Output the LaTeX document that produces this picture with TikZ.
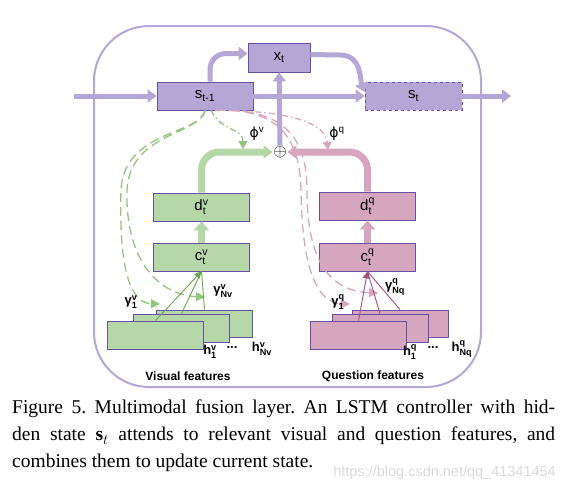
\documentclass[tikz,border=0pt]{standalone}
\usepackage{amsmath}
\usepackage{fontspec}
\setmainfont{Liberation Serif}
\setsansfont{Liberation Sans}
\newfontfamily\greekfont{DejaVu Sans}
\usepackage{tikz}
\usetikzlibrary{arrows.meta,calc,positioning}
\definecolor{fsPurple}{HTML}{B4A7D6}
\definecolor{fsPurpleDark}{HTML}{674EA7}
\definecolor{fsGreen}{HTML}{B6D7A8}
\definecolor{fsGreenDash}{HTML}{93C47D}
\definecolor{fsGreenLine}{HTML}{6AA84F}
\definecolor{fsPink}{HTML}{D5A6BD}
\definecolor{fsPinkLine}{HTML}{A64D79}
\frenchspacing

\begin{document}
\begin{tikzpicture}[x=1pt,y=-1pt,>=Latex,
  box/.style={draw=fsPurpleDark,line width=0.8pt,minimum width=96pt,minimum height=28pt,inner sep=0pt,font=\sffamily\fontsize{15}{17}\selectfont},
  statebox/.style={box,fill=fsPurple},
  visbox/.style={box,fill=fsGreen},
  quebox/.style={box,fill=fsPink},
  flow/.style={line width=5pt,-{Triangle[length=9pt,width=13pt]}},
  lbl/.style={font=\sffamily\bfseries\fontsize{13}{15}\selectfont,inner sep=1pt}]
\useasboundingbox (0,0) rectangle (580,490);
% outer frame
\draw[fsPurple,line width=2pt,rounded corners=55pt] (94,26) rectangle (481,387);
% state row
\node[statebox] (prev) at (205,96) {s$_{\text{t-1}}$};
\node[statebox,minimum width=62pt,minimum height=29pt] (xt) at (279,57.5) {x$_{\text{t}}$};
\node[statebox,dashed,minimum width=97pt] (st) at (413.5,96) {s$_{\text{t}}$};
\coordinate (in) at (74,96);
\coordinate (out) at (511,96);
\node[inner sep=0.5pt,font=\fontsize{17}{17}\selectfont] (fuse) at (280,152) {$\oplus$};
\draw[flow,fsPurple] (in) -- (prev);
\draw[flow,fsPurple] (prev) -- (st);
\draw[flow,fsPurple] (st) -- (out);
\draw[flow,fsPurple,rounded corners=16pt] ([xshift=5pt]prev.north) |- ([yshift=4pt]xt.west);
\draw[flow,fsPurple] ([yshift=3pt]xt.east) -- (340,55) .. controls (362,55) and (360,80) .. ([yshift=4pt]st.west);
\draw[flow,fsPurple] (fuse) -- (xt);
% feature branches
\node[visbox] (dv) at (201.5,207) {d$^{\text{v}}_{\text{t}}$};
\node[visbox] (cv) at (201.5,257) {c$^{\text{v}}_{\text{t}}$};
\node[quebox] (dq) at (367.5,206) {d$^{\text{q}}_{\text{t}}$};
\node[quebox] (cq) at (367.5,257) {c$^{\text{q}}_{\text{t}}$};
\draw[flow,fsGreen,line width=7pt,-{Triangle[length=9pt,width=15pt]}] (cv) -- (dv);
\draw[flow,fsPink,line width=7pt,-{Triangle[length=9pt,width=15pt]}] (cq) -- (dq);
\draw[flow,fsGreen,line width=7pt,rounded corners=18pt] (dv) |- (fuse);
\draw[flow,fsPink,line width=7pt,rounded corners=18pt] (dq) |- (fuse);
% attention from s_{t-1}
\draw[fsGreenDash,line width=1.3pt,dash pattern=on 6pt off 3pt on 1.5pt off 3pt,-{Triangle[length=8pt,width=9pt]}] ([xshift=6pt]prev.south) .. controls (222,132) and (243,128) .. (243,149);
\draw[fsPink,line width=1.3pt,dash pattern=on 6pt off 3pt on 1.5pt off 3pt,-{Triangle[length=8pt,width=9pt]}] ([xshift=10pt]prev.south) .. controls (270,110) and (325,118) .. (328,150);
\node[font=\greekfont\fontsize{14}{16}\selectfont] (phiv) at (257,134) {ϕ\textsuperscript{\sffamily v}};
\node[font=\greekfont\fontsize{14}{16}\selectfont] (phiq) at (337,134) {ϕ\textsuperscript{\sffamily q}};
\draw[fsGreenDash,line width=1.3pt,dash pattern=on 9pt off 5pt,-{Triangle[length=9pt,width=9pt]}] (prev.south) .. controls (200,135) and (124,130) .. (121,190) .. controls (119,262) and (128,303) .. (160,304);
\draw[fsGreenDash,line width=1.3pt,dash pattern=on 9pt off 5pt,-{Triangle[length=9pt,width=9pt]}] (prev.south) .. controls (200,135) and (130,132) .. (127,190) .. controls (125,262) and (160,295) .. (205,297);
\draw[fsPink,line width=1.3pt,dash pattern=on 9pt off 5pt,-{Triangle[length=9pt,width=9pt]}] ([xshift=12pt]prev.south) .. controls (280,108) and (300,140) .. (301,190) .. controls (302,272) and (318,303) .. (350,304);
\draw[fsPink,line width=1.3pt,dash pattern=on 9pt off 5pt,-{Triangle[length=9pt,width=9pt]}] ([xshift=12pt]prev.south) .. controls (286,108) and (307,140) .. (307,190) .. controls (307,262) and (330,291) .. (378,293);
% visual features
\node[visbox,minimum height=27pt] (vf3) at (204.5,323.5) {};
\node[visbox] (vf2) at (181.5,328) {};
\node[visbox] (vf1) at (155.5,335) {};
\draw[fsGreenLine,line width=0.9pt,-{Triangle[length=7pt,width=7pt]}] (vf1.north) -- (cv.south);
\draw[fsGreenLine,line width=0.9pt] (vf2.north) -- (cv.south);
\draw[fsGreenLine,line width=0.9pt] (vf3.north) -- (cv.south);
\node[lbl] (g1v) at (131,302) {γ$^{\text{v}}_{\text{1}}$};
\node[lbl] (gnv) at (223,291) {γ$^{\text{v}}_{\text{Nv}}$};
\node[lbl] (h1v) at (210,352) {h$^{\text{v}}_{\text{1}}$};
\node[lbl] (dotsv) at (232,348) {...};
\node[lbl] (hnv) at (262,349) {h$^{\text{v}}_{\text{Nv}}$};
\node[lbl,font=\sffamily\bfseries\fontsize{12}{14}\selectfont] (visual) at (188,376) {Visual features};
% question features
\node[quebox,minimum height=27pt] (qf3) at (400,323.5) {};
\node[quebox] (qf2) at (380,328) {};
\node[quebox] (qf1) at (358.5,335) {};
\draw[fsPinkLine,line width=0.9pt,-{Triangle[length=7pt,width=7pt]}] (qf1.north) -- (cq.south);
\draw[fsPinkLine,line width=0.9pt] (qf2.north) -- (cq.south);
\draw[fsPinkLine,line width=0.9pt] (qf3.north) -- (cq.south);
\node[lbl] (g1q) at (338,302) {γ$^{\text{q}}_{\text{1}}$};
\node[lbl] (gnq) at (395,287) {γ$^{\text{q}}_{\text{Nq}}$};
\node[lbl] (h1q) at (410,352) {h$^{\text{q}}_{\text{1}}$};
\node[lbl] (dotsq) at (433,348) {...};
\node[lbl] (hnq) at (462,349) {h$^{\text{q}}_{\text{Nq}}$};
\node[lbl,font=\sffamily\bfseries\fontsize{12}{14}\selectfont] (question) at (373,376) {Question features};
% caption
\node[anchor=north west,text width=543pt,align=justify,inner sep=0pt,font=\fontsize{19.5}{27}\selectfont] (caption) at (12,400)
  {Figure 5. Multimodal fusion layer. An LSTM controller with hid-\linebreak den state $\mathbf{s}_t$ attends to relevant visual and question features, and\linebreak combines them to update current state.};
\node[anchor=base east,text=gray!30,inner sep=0pt,font=\sffamily\fontsize{14.5}{16}\selectfont] (mark) at (556,476) {https://blog.csdn.net/qq\_41341454};
\end{tikzpicture}
\end{document}
